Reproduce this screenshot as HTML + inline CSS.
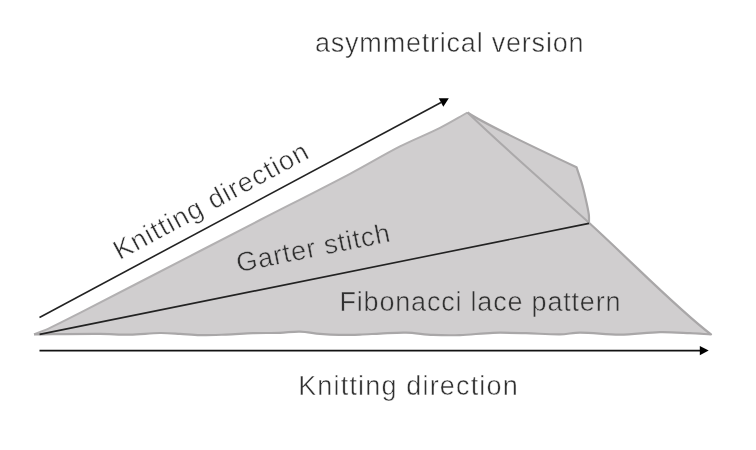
<!DOCTYPE html>
<html><head><meta charset="utf-8">
<style>
html,body{margin:0;padding:0;background:#fff;width:756px;height:450px;overflow:hidden}
svg{display:block;will-change:transform}
text{font-family:"Liberation Sans",sans-serif;font-size:27px;fill:#303030;stroke-width:0.5}
.w{stroke:#fff}
.g{stroke:#d0cecf}
</style></head><body>
<svg width="756" height="450" viewBox="0 0 756 450">
<path d="M34,334.4 C39.3,332.2 44.8,330.3 50.0,327.8 C60.1,323.1 70.0,317.9 80.0,312.8 C100.0,302.6 120.0,292.3 140.0,282.0 C180.0,261.4 220.0,240.6 260.0,220.0 C290.0,204.6 320.2,189.5 350.0,173.8 C366.8,165.0 383.1,155.0 400.0,146.4 C413.1,139.7 426.9,134.4 440.0,127.8 C449.4,123.1 458.3,117.6 467.5,112.5 C482.5,122.8 529.1,145 576.5,167.2 C578.3,172.6 580.2,177.9 581.8,183.3 C583.3,188.4 584.5,193.7 585.7,198.9 C586.9,204.0 588.1,209.2 588.8,214.4 C589.2,217.2 588.9,220.0 589.0,222.8 C634.4,264.3 677.9,309.5 711,334.4 C704.0,334.0 697.0,333.5 690.0,333.2 C680.0,332.7 670.0,331.9 660.0,332.1 C646.7,332.4 633.3,334.5 620.0,334.6 C606.7,334.7 593.3,332.6 580.0,332.6 C573.3,332.6 566.7,334.3 560.0,334.4 C548.7,334.5 537.3,333.5 526.0,333.2 C515.0,332.9 504.0,332.5 493.0,332.8 C482.0,333.1 471.0,334.7 460.0,335.1 C451.0,335.4 442.0,335.3 433.0,334.9 C424.0,334.5 415.0,332.8 406.0,332.6 C397.3,332.4 388.7,333.2 380.0,333.6 C373.3,333.9 366.7,334.4 360.0,334.6 C353.0,334.8 346.0,335.0 339.0,334.9 C332.7,334.8 326.3,334.4 320.0,333.9 C313.3,333.3 306.7,331.8 300.0,331.6 C293.3,331.4 286.7,332.6 280.0,332.8 C271.0,333.1 262.0,332.9 253.0,333.2 C244.0,333.5 235.0,334.3 226.0,334.6 C217.3,334.9 208.7,335.3 200.0,335.2 C193.3,335.1 186.7,334.3 180.0,333.9 C173.3,333.5 166.7,332.9 160.0,333.0 C150.0,333.2 140.0,334.5 130.0,334.7 C120.0,334.8 110.0,333.9 100.0,333.9 C78.0,333.8 56.0,334.2 34.0,334.4 Z" fill="#d0cecf"/>
<path d="M34,334.4 C39.3,332.2 44.8,330.3 50.0,327.8 C60.1,323.1 70.0,317.9 80.0,312.8 C100.0,302.6 120.0,292.3 140.0,282.0 C180.0,261.4 220.0,240.6 260.0,220.0 C290.0,204.6 320.2,189.5 350.0,173.8 C366.8,165.0 383.1,155.0 400.0,146.4 C413.1,139.7 426.9,134.4 440.0,127.8 C449.4,123.1 458.3,117.6 467.5,112.5" fill="none" stroke="#b2b0b1" stroke-width="2" stroke-linejoin="round"/>
<path d="M467.5,112.5 C482.5,122.8 529.1,145 576.5,167.2 C578.3,172.6 580.2,177.9 581.8,183.3 C583.3,188.4 584.5,193.7 585.7,198.9 C586.9,204.0 588.1,209.2 588.8,214.4 C589.2,217.2 588.9,220.0 589.0,222.8 C634.4,264.3 677.9,309.5 711,334.4 C704.0,334.0 697.0,333.5 690.0,333.2 C680.0,332.7 670.0,331.9 660.0,332.1 C646.7,332.4 633.3,334.5 620.0,334.6 C606.7,334.7 593.3,332.6 580.0,332.6 C573.3,332.6 566.7,334.3 560.0,334.4 C548.7,334.5 537.3,333.5 526.0,333.2 C515.0,332.9 504.0,332.5 493.0,332.8 C482.0,333.1 471.0,334.7 460.0,335.1 C451.0,335.4 442.0,335.3 433.0,334.9 C424.0,334.5 415.0,332.8 406.0,332.6 C397.3,332.4 388.7,333.2 380.0,333.6 C373.3,333.9 366.7,334.4 360.0,334.6 C353.0,334.8 346.0,335.0 339.0,334.9 C332.7,334.8 326.3,334.4 320.0,333.9 C313.3,333.3 306.7,331.8 300.0,331.6 C293.3,331.4 286.7,332.6 280.0,332.8 C271.0,333.1 262.0,332.9 253.0,333.2 C244.0,333.5 235.0,334.3 226.0,334.6 C217.3,334.9 208.7,335.3 200.0,335.2 C193.3,335.1 186.7,334.3 180.0,333.9 C173.3,333.5 166.7,332.9 160.0,333.0 C150.0,333.2 140.0,334.5 130.0,334.7 C120.0,334.8 110.0,333.9 100.0,333.9 C78.0,333.8 56.0,334.2 34.0,334.4" fill="none" stroke="#a9a7a8" stroke-width="2.2" stroke-linejoin="round"/>
<path d="M467.5,112.5 C507.5,150.9 550.1,187.5 589,222.8" fill="none" stroke="#aba9aa" stroke-width="2"/>
<path d="M39.6,334.4 L589,223.4" fill="none" stroke="#222" stroke-width="1.6"/>
<path d="M39.5,317.5 L441.04,102.45" stroke="#222" stroke-width="1.6" fill="none"/>
<path d="M448.80,98.30 L438.78,98.22 L443.31,106.69 Z" fill="#000"/>
<path d="M39.5,350.6 L701,350.6" stroke="#111" stroke-width="1.6" fill="none"/>
<path d="M708.7,350.6 L699.8,346 L699.8,355.2 Z" fill="#000"/>
<text class="w" x="315" y="52.2" textLength="268.5" lengthAdjust="spacing">asymmetrical version</text>
<text class="w" x="298.2" y="395.2" textLength="219.5" lengthAdjust="spacing">Knitting direction</text>
<text class="g" x="339.5" y="311" textLength="281" lengthAdjust="spacing">Fibonacci lace pattern</text>
<text class="g" x="0" y="0" textLength="156" lengthAdjust="spacing" transform="translate(238.3,272.2) rotate(-11.4)">Garter stitch</text>
<text class="w" x="0" y="0" textLength="217" lengthAdjust="spacing" transform="translate(119.5,260.3) rotate(-28.3)">Knitting direction</text>
</svg>
</body></html>
